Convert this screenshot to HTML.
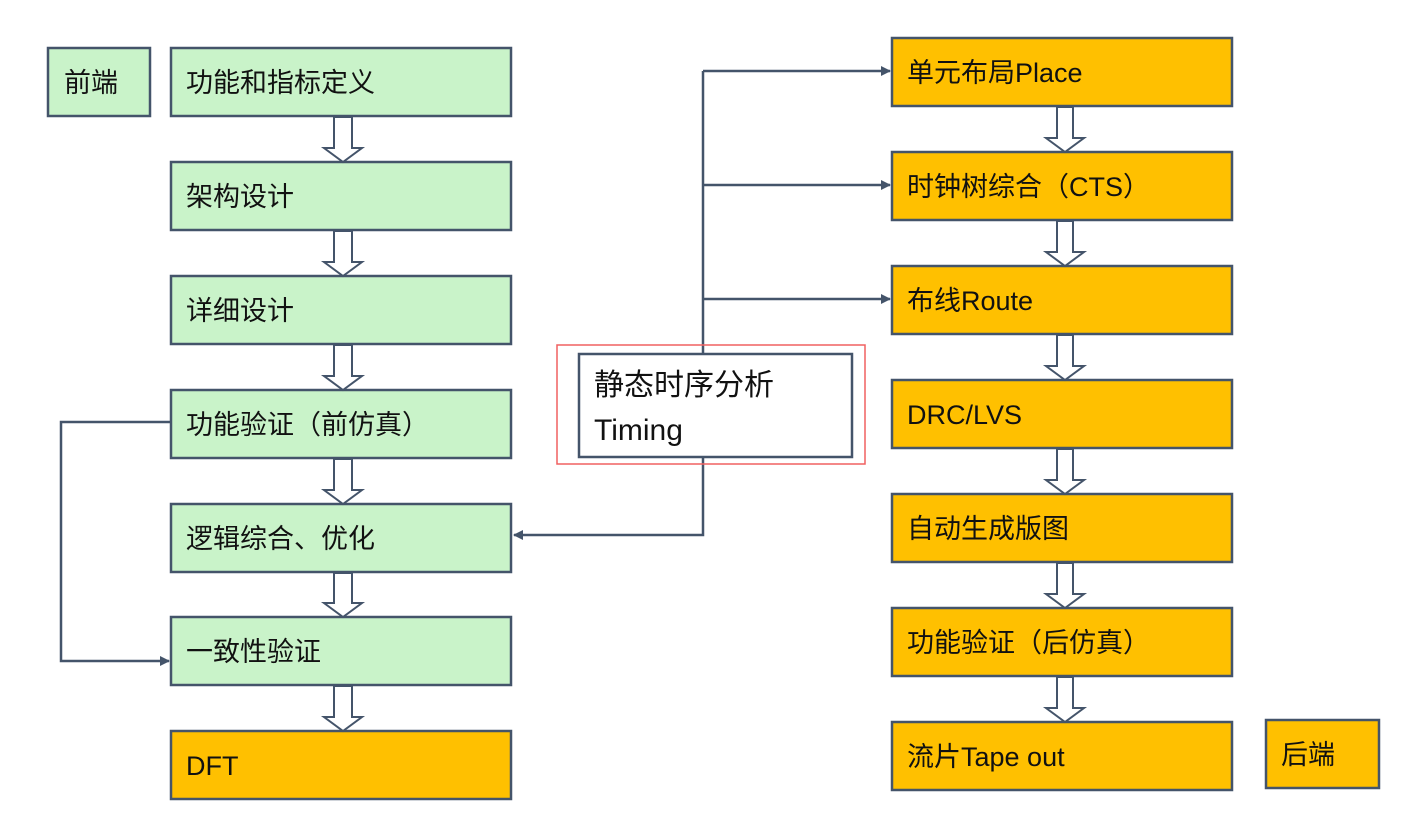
<!DOCTYPE html>
<html><head><meta charset="utf-8"><style>
html,body{margin:0;padding:0;background:#fff;}
svg text{font-family:"Liberation Sans","Noto Sans CJK SC",sans-serif;font-size:27px;fill:#111;}
</style></head><body>
<svg width="1412" height="828" viewBox="0 0 1412 828" xmlns="http://www.w3.org/2000/svg">
<defs>
<marker id="ah" markerWidth="10" markerHeight="10" refX="9" refY="5" orient="auto" markerUnits="userSpaceOnUse">
<path d="M0,0 L10,5 L0,10 z" fill="#44546a"/></marker>
</defs>
<g stroke="#44546a" stroke-width="2.5">
<rect x="48" y="48" width="102" height="68" fill="#c9f3c9"/>
<rect x="171" y="48" width="340" height="68" fill="#c9f3c9"/>
<rect x="171" y="162" width="340" height="68" fill="#c9f3c9"/>
<rect x="171" y="276" width="340" height="68" fill="#c9f3c9"/>
<rect x="171" y="390" width="340" height="68" fill="#c9f3c9"/>
<rect x="171" y="504" width="340" height="68" fill="#c9f3c9"/>
<rect x="171" y="617" width="340" height="68" fill="#c9f3c9"/>
<rect x="171" y="731" width="340" height="68" fill="#ffc000"/>
<rect x="892" y="38" width="340" height="68" fill="#ffc000"/>
<rect x="892" y="152" width="340" height="68" fill="#ffc000"/>
<rect x="892" y="266" width="340" height="68" fill="#ffc000"/>
<rect x="892" y="380" width="340" height="68" fill="#ffc000"/>
<rect x="892" y="494" width="340" height="68" fill="#ffc000"/>
<rect x="892" y="608" width="340" height="68" fill="#ffc000"/>
<rect x="892" y="722" width="340" height="68" fill="#ffc000"/>
<rect x="1266" y="720" width="113" height="68" fill="#ffc000"/>
</g>
<g fill="#fff" stroke="#44546a" stroke-width="2">
<path d="M334,117 h18 v31 h10 l-19,14 l-19,-14 h10 z"/>
<path d="M334,231 h18 v31 h10 l-19,14 l-19,-14 h10 z"/>
<path d="M334,345 h18 v31 h10 l-19,14 l-19,-14 h10 z"/>
<path d="M334,459 h18 v31 h10 l-19,14 l-19,-14 h10 z"/>
<path d="M334,573 h18 v30 h10 l-19,14 l-19,-14 h10 z"/>
<path d="M334,686 h18 v31 h10 l-19,14 l-19,-14 h10 z"/>
<path d="M1057,107 h16 v31 h11 l-19,14 l-19,-14 h11 z"/>
<path d="M1057,221 h16 v31 h11 l-19,14 l-19,-14 h11 z"/>
<path d="M1057,335 h16 v31 h11 l-19,14 l-19,-14 h11 z"/>
<path d="M1057,449 h16 v31 h11 l-19,14 l-19,-14 h11 z"/>
<path d="M1057,563 h16 v31 h11 l-19,14 l-19,-14 h11 z"/>
<path d="M1057,677 h16 v31 h11 l-19,14 l-19,-14 h11 z"/>
</g>
<g stroke="#44546a" stroke-width="2.5" fill="none">
<path d="M703,71 V535 H514" marker-end="url(#ah)"/>
<path d="M703,71 H890" marker-end="url(#ah)"/>
<path d="M703,185 H890" marker-end="url(#ah)"/>
<path d="M703,299 H890" marker-end="url(#ah)"/>
<path d="M171,422 H61 V661 H169" marker-end="url(#ah)"/>
</g>
<rect x="557" y="345" width="308" height="119" fill="none" stroke="#f06060" stroke-width="1.5"/>
<rect x="579" y="354" width="273" height="103" fill="#fff" stroke="#44546a" stroke-width="2.5"/>
<text x="594" y="395" style="font-size:30px">静态时序分析</text>
<text x="594" y="440" style="font-size:30px">Timing</text>
<text x="64" y="92">前端</text>
<text x="186" y="92">功能和指标定义</text>
<text x="186" y="206">架构设计</text>
<text x="186" y="320">详细设计</text>
<text x="186" y="434">功能验证（前仿真）</text>
<text x="186" y="548">逻辑综合、优化</text>
<text x="186" y="661">一致性验证</text>
<text x="186" y="775">DFT</text>
<text x="907" y="82">单元布局Place</text>
<text x="907" y="196">时钟树综合（CTS）</text>
<text x="907" y="310">布线Route</text>
<text x="907" y="424">DRC/LVS</text>
<text x="907" y="538">自动生成版图</text>
<text x="907" y="652">功能验证（后仿真）</text>
<text x="907" y="766">流片Tape out</text>
<text x="1281" y="764">后端</text>
</svg>
</body></html>
